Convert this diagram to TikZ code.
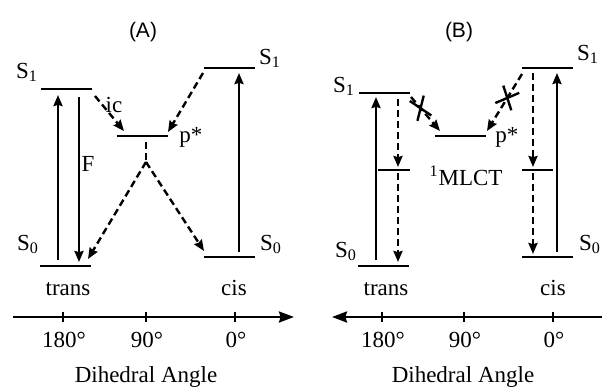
\documentclass[tikz,border=0pt]{standalone}
\usepackage{fontspec}
\setmainfont{Liberation Serif}
\newfontfamily\panelfont{Liberation Sans}
\usetikzlibrary{calc, positioning, arrows.meta}

\newcommand{\Level}[4]{%
    % #1 : name
    % #2 : x left
    % #3 : x right
    % #4 : y
    \coordinate (#1-l) at (#2,#4);
    \coordinate (#1-r) at (#3,#4);
    \draw[level] (#1-l) -- (#1-r);
}
\newcommand{\Blocked}[3]{%
    % #1 : centre of the cross
    % #2 : angle of first stroke
    % #3 : angle of second stroke
    \def\r{13} % half length
    \begin{scope}
        \draw[level] ($(#1)+(#2:\r)$) -- ($(#1)-(#2:\r)$);
        \draw[level] ($(#1)+(#3:\r)$) -- ($(#1)-(#3:\r)$);
    \end{scope}
}
\newcommand{\Ticks}[4]{%
    % #1 : y of the axis
    % #2, #3, #4 : x of 180, 90 and 0 degrees
    \foreach \tx/\tl in {#2/180°, #3/90°, #4/0°} {
        \draw[level] (\tx,#1-5) -- (\tx,#1+5);
        \node[lbl] at (\tx+1,#1+30) {\tl};
    }
}

\begin{document}
\begin{tikzpicture}[
        x=0.5pt, y=-0.5pt,
        font=\fontsize{11.5}{13}\selectfont,
        level/.style={line width=1.2pt},
        radiative/.style={line width=1.2pt, -{Stealth[length=5.5pt,width=4.5pt,inset=0.6pt]}},
        nonrad/.style={radiative, dash pattern=on 3.5pt off 2pt},
        dashline/.style={line width=1.2pt, dash pattern=on 3.5pt off 2pt},
        axis/.style={line width=1.2pt, -{Stealth[length=7.5pt,width=5.5pt,inset=0.8pt]}},
        lbl/.style={anchor=base, inner sep=0pt},
        panel/.style={lbl, font=\panelfont\fontsize{10.5}{12}\selectfont},
    ]

    \useasboundingbox (0,0) rectangle (602,387);

    % ---------- (A) ----------
    \node[panel] (titleA) at (143,37) {(A)};

    \Level{tsA}{41}{92}{89}
    \Level{csA}{204}{255}{68}
    \Level{pA}{117}{168}{136}
    \Level{tgA}{40}{91}{266}
    \Level{cgA}{204}{255}{257}

    \node[lbl] (tsAlbl) at (27,78) {S\textsubscript{1}};
    \node[lbl] (csAlbl) at (270,64) {S\textsubscript{1}};
    \node[lbl] (pAlbl) at (191,142) {p*};
    \node[lbl] (tgAlbl) at (28,250) {S\textsubscript{0}};
    \node[lbl] (cgAlbl) at (271,250) {S\textsubscript{0}};
    \node[lbl] (transA) at (68,295) {trans};
    \node[lbl] (cisA) at (234,295) {cis};

    \coordinate (upA-b) at (58,260);
    \coordinate (upA-t) at (58,95);
    \coordinate (fA-t) at (79,97);
    \coordinate (fA-b) at (79,262);
    \coordinate (icA-s) at (95,96);
    \coordinate (icA-e) at (124,131);
    \coordinate (cpA-s) at (203,73);
    \coordinate (cpA-e) at (168,132);
    \coordinate (pdA-t) at (146,142);
    \coordinate (pdA-m) at (146,162);
    \coordinate (pdA-l) at (88,259);
    \coordinate (pdA-r) at (204,251);
    \coordinate (upA2-b) at (239,252);
    \coordinate (upA2-t) at (239,73);

    \draw[radiative] (upA-b) -- (upA-t);
    \draw[radiative] (fA-t) -- (fA-b);
    \node[lbl] (fAlbl) at (88,171) {F};
    \draw[nonrad] (icA-s) -- (icA-e);
    \node[lbl] (icAlbl) at (114,112) {ic};
    \draw[nonrad] (cpA-s) -- (cpA-e);
    \draw[dashline] (pdA-t) -- (pdA-m);
    \draw[nonrad] (pdA-m) -- (pdA-l);
    \draw[nonrad] (pdA-m) -- (pdA-r);
    \draw[radiative] (upA2-b) -- (upA2-t);

    \coordinate (axA-s) at (13,317);
    \coordinate (axA-e) at (294,317);
    \draw[axis] (axA-s) -- (axA-e);
    \Ticks{317}{63}{146}{235}
    \node[lbl] (angleA) at (146,382) {Dihedral Angle};

    % ---------- (B) ----------
    \node[panel] (titleB) at (459,37) {(B)};

    \Level{tsB}{359}{410}{93}
    \Level{csB}{522}{573}{68}
    \Level{pB}{435}{486}{136}
    \Level{mlB}{378}{410}{170}
    \Level{mrB}{522}{553}{170}
    \Level{tgB}{358}{409}{266}
    \Level{cgB}{522}{573}{257}

    \node[lbl] (tsBlbl) at (344,92) {S\textsubscript{1}};
    \node[lbl] (csBlbl) at (588,60) {S\textsubscript{1}};
    \node[lbl] (pBlbl) at (507,142) {p*};
    \node[lbl] (mlctB) at (466,185) {\textsuperscript{1}MLCT};
    \node[lbl] (tgBlbl) at (346,257) {S\textsubscript{0}};
    \node[lbl] (cgBlbl) at (590,250) {S\textsubscript{0}};
    \node[lbl] (transB) at (386,295) {trans};
    \node[lbl] (cisB) at (553,295) {cis};

    \coordinate (upB-b) at (376,260);
    \coordinate (upB-t) at (376,97);
    \coordinate (dnB-t) at (398,99);
    \coordinate (dnB-m) at (398,167);
    \coordinate (dnB-m2) at (398,173);
    \coordinate (dnB-b) at (398,262);
    \coordinate (dnB2-t) at (533,73);
    \coordinate (dnB2-m) at (533,167);
    \coordinate (dnB2-m2) at (533,173);
    \coordinate (dnB2-b) at (533,254);
    \coordinate (upB2-b) at (557,252);
    \coordinate (upB2-t) at (557,73);
    \coordinate (xL-s) at (411,97);
    \coordinate (xL-e) at (440,131);
    \coordinate (xR-s) at (522,74);
    \coordinate (xR-e) at (487,131);

    \draw[radiative] (upB-b) -- (upB-t);
    \draw[nonrad] (dnB-t) -- (dnB-m);
    \draw[nonrad] (dnB-m2) -- (dnB-b);
    \draw[nonrad] (dnB2-t) -- (dnB2-m);
    \draw[nonrad] (dnB2-m2) -- (dnB2-b);
    \draw[radiative] (upB2-b) -- (upB2-t);
    \draw[nonrad] (xL-s) -- (xL-e);
    \draw[nonrad] (xR-s) -- (xR-e);
    \coordinate (xL-c) at ($(xL-s)!0.33!(xL-e)$);
    \coordinate (xR-c) at ($(xR-s)!0.42!(xR-e)$);
    \Blocked{xL-c}{34}{104}
    \Blocked{xR-c}{-23}{72}

    \coordinate (axB-s) at (602,317);
    \coordinate (axB-e) at (332,317);
    \draw[axis] (axB-s) -- (axB-e);
    \Ticks{317}{382}{464}{553}
    \node[lbl] (angleB) at (463,382) {Dihedral Angle};

\end{tikzpicture}
\end{document}
